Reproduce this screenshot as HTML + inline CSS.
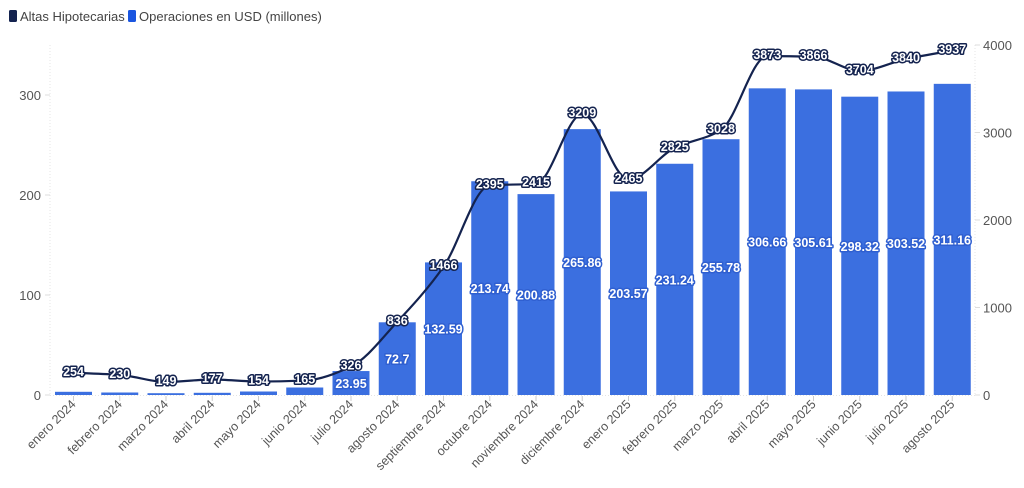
<!DOCTYPE html>
<html><head><meta charset="utf-8"><style>
html,body{margin:0;padding:0;background:#fff;width:1024px;height:488px;overflow:hidden}
svg{font-family:"Liberation Sans",sans-serif}
</style></head><body>
<svg id="c" width="1024" height="488" xmlns="http://www.w3.org/2000/svg"></svg>
<script>
const cats=["enero 2024","febrero 2024","marzo 2024","abril 2024","mayo 2024","junio 2024","julio 2024","agosto 2024","septiembre 2024","octubre 2024","noviembre 2024","diciembre 2024","enero 2025","febrero 2025","marzo 2025","abril 2025","mayo 2025","junio 2025","julio 2025","agosto 2025"];
const bars=[3.2,2.5,1.8,2.2,3.5,7.5,23.95,72.7,132.59,213.74,200.88,265.86,203.57,231.24,255.78,306.66,305.61,298.32,303.52,311.16];
const barLbl=[null,null,null,null,null,null,"23.95","72.7","132.59","213.74","200.88","265.86","203.57","231.24","255.78","306.66","305.61","298.32","303.52","311.16"];
const line=[254,230,149,177,154,165,326,836,1466,2395,2415,3209,2465,2825,3028,3873,3866,3704,3840,3937];
const y0=395, step=46.25, x0=73.5;
let s='';
s+='<rect x="9" y="10" width="8" height="12" rx="1.5" fill="#14234f"/><text x="20" y="21" font-size="13" fill="#444">Altas Hipotecarias</text>';
s+='<rect x="128" y="10" width="8" height="12" rx="1.5" fill="#1a55e0"/><text x="139" y="21" font-size="13" fill="#444">Operaciones en USD (millones)</text>';
s+='<line x1="50" y1="45" x2="50" y2="395" stroke="#e4e4e4" stroke-dasharray="1,2"/>';
s+='<line x1="975" y1="45" x2="975" y2="395" stroke="#e4e4e4" stroke-dasharray="1,2"/>';
s+='<line x1="50" y1="395.5" x2="975" y2="395.5" stroke="#e4e4e4" stroke-dasharray="1,2"/>';
[0,100,200,300].forEach(v=>{const y=y0-v;s+=`<line x1="45" x2="50" y1="${y}" y2="${y}" stroke="#ddd"/><text x="41" y="${y+5}" font-size="13" fill="#555" text-anchor="end">${v}</text>`;});
[0,1000,2000,3000,4000].forEach(v=>{const y=y0-v*0.0875;s+=`<line x1="975" x2="980" y1="${y}" y2="${y}" stroke="#ddd"/><text x="983" y="${y+5}" font-size="13" fill="#555">${v}</text>`;});
bars.forEach((v,i)=>{const cx=x0+i*step;s+=`<rect x="${cx-18.5}" y="${y0-v}" width="37" height="${v}" fill="#3b6fe0"/>`;
s+=`<line x1="${cx}" x2="${cx}" y1="396" y2="401" stroke="#ccc"/>`;
s+=`<text transform="translate(${cx+3},${405}) rotate(-45)" text-anchor="end" font-size="12.5" fill="#555">${cats[i]}</text>`;});
barLbl.forEach((l,i)=>{if(!l)return;const cx=x0+i*step,y=y0-bars[i]/2+5;
s+=`<text x="${cx}" y="${y}" font-size="12.5" font-weight="bold" text-anchor="middle" fill="#fff" stroke="#2f5fd0" stroke-width="3" paint-order="stroke" stroke-linejoin="round">${l}</text>`;});
// monotone cubic
const pts=line.map((v,i)=>[x0+i*step,y0-v*0.0875]);
const n=pts.length, sl=[], m=[];
for(let i=0;i<n-1;i++) sl.push((pts[i+1][1]-pts[i][1])/step);
for(let i=0;i<n;i++){
  if(i==0) m.push(sl[0]); else if(i==n-1) m.push(sl[n-2]);
  else { const a=sl[i-1],b=sl[i]; m.push(a*b<=0?0:2/(1/a+1/b)); }
}
let d=`M${pts[0][0]},${pts[0][1]}`;
for(let i=0;i<n-1;i++){const h=step/3;
d+=` C${pts[i][0]+h},${pts[i][1]+m[i]*h} ${pts[i+1][0]-h},${pts[i+1][1]-m[i+1]*h} ${pts[i+1][0]},${pts[i+1][1]}`;}
s+=`<path d="${d}" fill="none" stroke="#14234f" stroke-width="2.2"/>`;
pts.forEach((p,i)=>{s+=`<text x="${p[0]}" y="${p[1]+3}" font-size="12.5" font-weight="bold" text-anchor="middle" fill="#fff" stroke="#14234f" stroke-width="3" paint-order="stroke" stroke-linejoin="round">${line[i]}</text>`;});
document.getElementById('c').innerHTML=s;
</script>
</body></html>
